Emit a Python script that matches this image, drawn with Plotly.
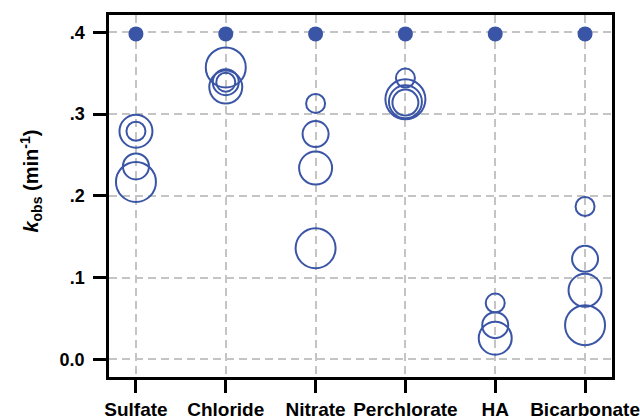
import plotly.graph_objects as go

# Anion categories along the x axis
categories = ["Sulfate", "Chloride", "Nitrate", "Perchlorate", "HA", "Bicarbonate"]

# Reference rate constant for each category (filled markers)
k_control = [0.398, 0.398, 0.398, 0.398, 0.398, 0.398]

# Observed rate constants at four increasing anion concentrations
k_level1 = [0.279, 0.339, 0.313, 0.344, 0.069, 0.187]
k_level2 = [0.236, 0.339, 0.2755, 0.314, 0.042, 0.123]
k_level3 = [0.279, 0.333, 0.234, 0.315, 0.026, 0.0846]
k_level4 = [0.217, 0.357, 0.136, 0.318, None, 0.042]

# Y tick positions and labels
y_tickvals = [0.0, 0.1, 0.2, 0.3, 0.4]
y_ticktext = ["0.0", ".1", ".2", ".3", ".4"]

BLUE = "#3a55a6"
FONT = "Liberation Sans"

fig = go.Figure()

fig.add_trace(go.Scatter(
    x=categories, y=k_control, mode="markers",
    marker=dict(symbol="circle", size=15, color=BLUE, line=dict(width=0)),
    showlegend=False, cliponaxis=False,
))

for vals, size in [(k_level1, 19), (k_level2, 26), (k_level3, 33), (k_level4, 40)]:
    fig.add_trace(go.Scatter(
        x=categories, y=vals, mode="markers",
        marker=dict(symbol="circle-open", size=size, color=BLUE,
                    line=dict(width=2, color=BLUE)),
        showlegend=False, cliponaxis=False,
    ))

axis_common = dict(
    showline=True, linecolor="black", linewidth=2.5, mirror=True,
    ticks="outside", ticklen=13, tickwidth=2.5, tickcolor="black",
    showgrid=True, gridcolor="#c4c4c4", gridwidth=1.5, griddash="8px,5px",
    zeroline=False, automargin=False,
)

fig.update_xaxes(
    type="category", range=[-0.3, 5.3], ticklabelstandoff=0,
    tickfont=dict(family=FONT, size=19, color="black", weight="bold"),
    **axis_common
)
fig.update_yaxes(
    range=[-0.0214, 0.4211], tickvals=y_tickvals, ticktext=y_ticktext,
    ticklabelstandoff=5,
    tickfont=dict(family=FONT, size=18, color="black", weight="bold"),
    **axis_common
)

fig.add_annotation(
    text="<i>k</i><sub>obs</sub> (min<sup>-1</sup>)",
    xref="paper", yref="paper", x=-0.155, y=0.54,
    xanchor="center", yanchor="middle", textangle=-90, showarrow=False,
    font=dict(family=FONT, size=20, color="black", weight="bold"),
)

fig.update_layout(
    width=640, height=419,
    margin=dict(l=109, r=28, t=15, b=42),
    paper_bgcolor="white", plot_bgcolor="white",
)

fig.write_html("out.html")
